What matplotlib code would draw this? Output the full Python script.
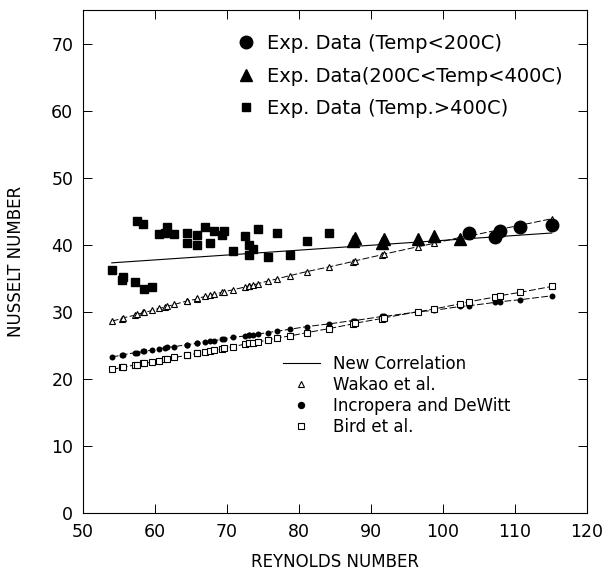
import matplotlib
matplotlib.use("Agg")
import matplotlib.pyplot as plt
from matplotlib.lines import Line2D

# Datos experimentais (Reynolds, Nusselt)
re_baixa = [103.65, 107.2, 107.9, 110.7, 115.2]
nu_baixa = [41.7, 41.1, 42.0, 42.7, 43.0]

re_media = [87.5, 87.8, 91.5, 91.8, 96.5, 98.7, 102.4]
nu_media = [40.5, 41.0, 40.3, 40.9, 40.9, 41.3, 40.9]

re_alta = [54.0, 55.4, 55.6, 57.2, 57.5, 58.4, 58.5, 59.6, 60.5, 61.4, 61.7,
           62.7, 64.4, 64.4, 65.8, 65.9, 67.0, 67.7, 68.2, 69.3, 69.6, 70.9,
           72.5, 73.1, 73.1, 73.65, 74.3, 75.7, 76.9, 78.75, 81.1, 84.2]
nu_alta = [36.3, 34.8, 35.2, 34.4, 43.5, 43.1, 33.4, 33.7, 41.6, 41.8, 42.7,
           41.6, 41.7, 40.3, 41.5, 39.9, 42.6, 40.3, 42.0, 41.5, 42.1, 39.1,
           41.3, 39.9, 38.4, 39.4, 42.3, 38.2, 41.7, 38.5, 40.6, 41.7]

# Nova correlacao
re_nova = [54.0, 115.1]
nu_nova = [37.3, 41.75]

# Correlacoes da literatura, nos mesmos Reynolds dos ensaios
re_modelos = [54.0, 55.4, 55.6, 57.2, 57.5, 58.4, 58.5, 59.6, 60.5, 61.4, 61.7,
              62.7, 64.4, 64.4, 65.8, 65.9, 67.0, 67.7, 68.2, 69.3, 69.6, 70.9,
              72.5, 73.1, 73.1, 73.65, 74.3, 75.7, 76.9, 78.75, 81.1, 84.2,
              87.5, 87.8, 91.5, 91.8, 96.5, 98.7, 102.4, 103.65, 107.2, 107.9,
              110.7, 115.2]
nu_wakao = [28.6, 29.0, 29.1, 29.5, 29.6, 29.9, 29.9, 30.2, 30.5, 30.7, 30.8,
            31.1, 31.6, 31.6, 31.9, 32.0, 32.3, 32.5, 32.6, 32.9, 33.0, 33.3,
            33.7, 33.9, 33.9, 34.0, 34.2, 34.6, 34.9, 35.4, 36.0, 36.7,
            37.5, 37.6, 38.5, 38.6, 39.7, 40.2, 41.1, 41.3, 42.1, 42.3,
            42.9, 43.9]
nu_incropera = [23.3, 23.5, 23.6, 23.9, 23.9, 24.1, 24.1, 24.3, 24.5, 24.6, 24.7,
                24.8, 25.1, 25.1, 25.3, 25.4, 25.5, 25.7, 25.7, 25.9, 26.0, 26.2,
                26.4, 26.5, 26.5, 26.6, 26.7, 26.9, 27.1, 27.4, 27.8, 28.2,
                28.7, 28.7, 29.3, 29.3, 30.0, 30.2, 30.8, 30.9, 31.4, 31.5,
                31.8, 32.4]
nu_bird = [21.4, 21.7, 21.7, 22.1, 22.1, 22.3, 22.3, 22.5, 22.7, 22.9, 23.0,
           23.2, 23.5, 23.5, 23.8, 23.8, 24.0, 24.2, 24.3, 24.5, 24.6, 24.8,
           25.2, 25.3, 25.3, 25.4, 25.5, 25.8, 26.1, 26.4, 26.9, 27.5,
           28.2, 28.3, 29.0, 29.1, 30.0, 30.4, 31.2, 31.5, 32.2, 32.4,
           32.9, 33.8]

x_ticks = [50, 60, 70, 80, 90, 100, 110, 120]
y_ticks = [0, 10, 20, 30, 40, 50, 60, 70]

plt.rcParams["font.family"] = ["DejaVu Sans"]

fig = plt.figure(figsize=(6.12, 5.77), dpi=100)
ax = fig.add_axes([83 / 612, 64 / 577, 504 / 612, 503 / 577])

traco = (0, (7, 2.5))

# Linhas dos modelos
ax.plot(re_nova, nu_nova, color="black", linewidth=0.8)
ax.plot(re_modelos, nu_wakao, color="black", linewidth=0.7, linestyle=traco,
        marker="^", markersize=5, markerfacecolor="white", markeredgewidth=0.8)
ax.plot(re_modelos, nu_incropera, color="black", linewidth=0.7, linestyle=traco,
        marker="o", markersize=4.3, markerfacecolor="black", markeredgewidth=0)
ax.plot(re_modelos, nu_bird, color="black", linewidth=0.7, linestyle=traco,
        marker="s", markersize=4.5, markerfacecolor="white", markeredgewidth=0.8)

# Pontos experimentais
ax.plot(re_alta, nu_alta, linestyle="none", marker="s", markersize=6.3,
        color="black")
ax.plot(re_media, nu_media, linestyle="none", marker="^", markersize=8.5,
        color="black")
ax.plot(re_baixa, nu_baixa, linestyle="none", marker="o", markersize=9,
        color="black")

ax.set_xlim(50, 120)
ax.set_ylim(0, 75)
ax.set_xticks(x_ticks)
ax.set_yticks(y_ticks)
ax.tick_params(direction="in", length=6.5, width=0.7, top=True, right=True,
               labelsize=12.5, pad=7)
for lado in ax.spines.values():
    lado.set_linewidth(0.8)

ax.set_xlabel("REYNOLDS NUMBER", fontsize=12)
ax.set_ylabel("NUSSELT NUMBER", fontsize=12)
ax.xaxis.set_label_coords(0.5, -0.08)
ax.yaxis.set_label_coords(-0.115, 0.5)

# Legenda dos dados experimentais
itens_exp = [
    Line2D([], [], linestyle="none", marker="o", markersize=9, color="black"),
    Line2D([], [], linestyle="none", marker="^", markersize=8.5, color="black"),
    Line2D([], [], linestyle="none", marker="s", markersize=6.3, color="black"),
]
nomes_exp = ["Exp. Data (Temp<200C)", "Exp. Data(200C<Temp<400C)",
             "Exp. Data (Temp.>400C)"]
leg1 = ax.legend(itens_exp, nomes_exp, loc="upper left",
                 bbox_to_anchor=((236 - 83) / 504, (513 - 34) / 503),
                 frameon=False, fontsize=14, handlelength=1.0,
                 handletextpad=0.6, labelspacing=0.7, borderpad=0,
                 borderaxespad=0)
ax.add_artist(leg1)

# Legenda das correlacoes
itens_mod = [
    Line2D([], [], color="black", linewidth=0.8),
    Line2D([], [], linestyle="none", marker="^", markersize=5,
           markerfacecolor="white", markeredgecolor="black", markeredgewidth=0.8),
    Line2D([], [], linestyle="none", marker="o", markersize=4.3, color="black"),
    Line2D([], [], linestyle="none", marker="s", markersize=4.5,
           markerfacecolor="white", markeredgecolor="black", markeredgewidth=0.8),
]
nomes_mod = ["New Correlation", "Wakao et al.", "Incropera and DeWitt",
             "Bird et al."]
ax.legend(itens_mod, nomes_mod, loc="upper left",
          bbox_to_anchor=((283 - 83) / 504, (513 - 355) / 503),
          frameon=False, fontsize=12, handlelength=2.2,
          handletextpad=0.8, labelspacing=0.17, borderpad=0,
          borderaxespad=0)

fig.savefig("out.png", dpi=100)
